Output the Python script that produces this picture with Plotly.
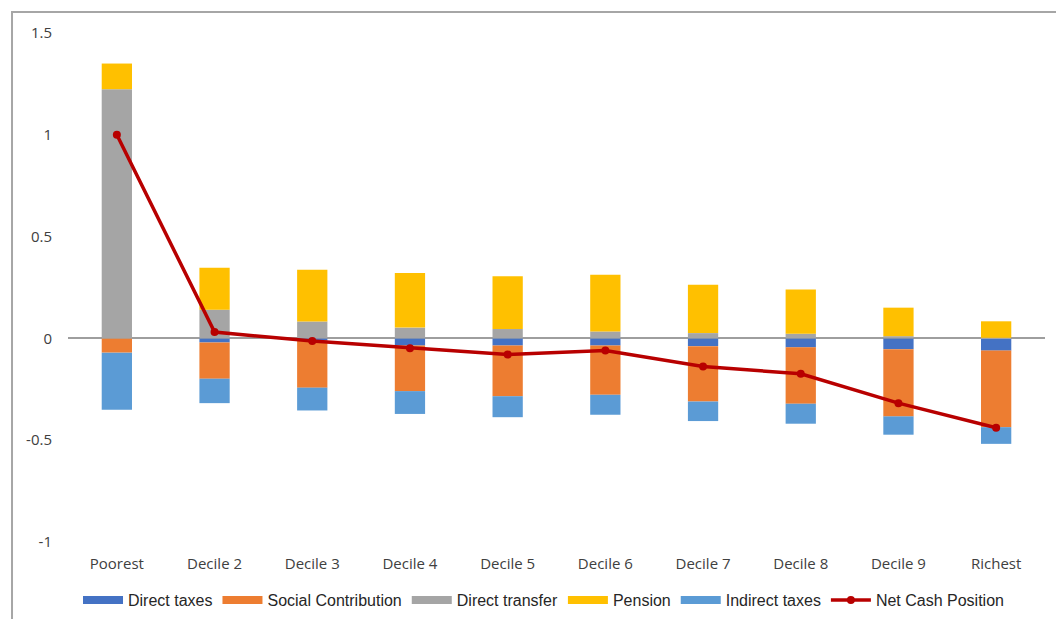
import plotly.graph_objects as go

# Income groups on the category axis
categories = ["Poorest", "Decile 2", "Decile 3", "Decile 4", "Decile 5",
              "Decile 6", "Decile 7", "Decile 8", "Decile 9", "Richest"]

# Fiscal components (share of market income)
direct_taxes = [0.0, -0.020, -0.010, -0.035, -0.035, -0.035, -0.038, -0.044, -0.053, -0.060]
social_contribution = [-0.070, -0.178, -0.232, -0.224, -0.249, -0.242, -0.272, -0.277, -0.330, -0.376]
direct_transfer = [1.224, 0.141, 0.083, 0.053, 0.046, 0.034, 0.026, 0.023, 0.011, 0.003]
pension = [0.126, 0.206, 0.254, 0.268, 0.259, 0.279, 0.238, 0.217, 0.140, 0.081]
indirect_taxes = [-0.280, -0.120, -0.112, -0.112, -0.103, -0.098, -0.096, -0.098, -0.090, -0.082]
net_cash_position = [1.000, 0.031, -0.013, -0.048, -0.079, -0.059, -0.138, -0.174, -0.318, -0.439]

y_ticks = [-1, -0.5, 0, 0.5, 1, 1.5]

bar_series = [
    ("Direct taxes", direct_taxes, "#4472C4"),
    ("Social Contribution", social_contribution, "#ED7D31"),
    ("Direct transfer", direct_transfer, "#A5A5A5"),
    ("Pension", pension, "#FFC000"),
    ("Indirect taxes", indirect_taxes, "#5B9BD5"),
]

NET_COLOR = "#B80000"

fig = go.Figure()
for name, values, color in bar_series:
    fig.add_trace(go.Bar(
        x=categories, y=values, name=name, showlegend=False,
        marker=dict(color=color, line=dict(width=0)),
    ))

fig.add_trace(go.Scatter(
    x=categories, y=net_cash_position, name="Net Cash Position",
    mode="lines+markers", showlegend=False,
    line=dict(color=NET_COLOR, width=3.5),
    marker=dict(color=NET_COLOR, size=8),
))

# Legend keys: wide flat swatches for the bar series, line+marker for the net position
for name, _, color in bar_series:
    fig.add_trace(go.Scatter(
        x=[None], y=[None], name=name, mode="lines",
        line=dict(color=color, width=8),
    ))
fig.add_trace(go.Scatter(
    x=[None], y=[None], name="Net Cash Position", mode="lines+markers",
    line=dict(color=NET_COLOR, width=3.5),
    marker=dict(color=NET_COLOR, size=8),
))

tick_font = dict(family="Open Sans, DejaVu Sans, sans-serif", size=15, color="#404040")

fig.update_layout(
    width=1056, height=619,
    barmode="relative",
    bargap=0.69,
    plot_bgcolor="white",
    paper_bgcolor="white",
    margin=dict(l=68, r=11, t=33, b=77, autoexpand=False),
    showlegend=True,
    legend=dict(
        orientation="h", x=0.4867, xanchor="center", y=-0.114, yanchor="middle",
        font=dict(family="Liberation Sans, Arial, sans-serif", size=16, color="#262626"),
        traceorder="normal", itemwidth=40, tracegroupgap=0,
    ),
    xaxis=dict(
        range=[-0.5, len(categories) - 0.5],
        showgrid=False, showline=False, zeroline=False, automargin=False,
        ticks="outside", ticklen=8, tickcolor="rgba(0,0,0,0)",
        tickfont=tick_font,
    ),
    yaxis=dict(
        range=[-1, 1.5], tickvals=y_ticks,
        ticktext=[f"{v:g}" for v in y_ticks],
        showgrid=False, showline=False, automargin=False,
        zeroline=True, zerolinecolor="#9E9E9E", zerolinewidth=1.5,
        ticks="outside", ticklen=12, tickcolor="rgba(0,0,0,0)",
        tickfont=tick_font,
    ),
    shapes=[dict(
        type="rect", xref="paper", yref="paper",
        x0=-0.0573, x1=1.05, y0=-0.3, y1=1.0413,
        line=dict(color="#A6A6A6", width=2), fillcolor="rgba(0,0,0,0)",
    )],
)

fig.write_html("out.html")
